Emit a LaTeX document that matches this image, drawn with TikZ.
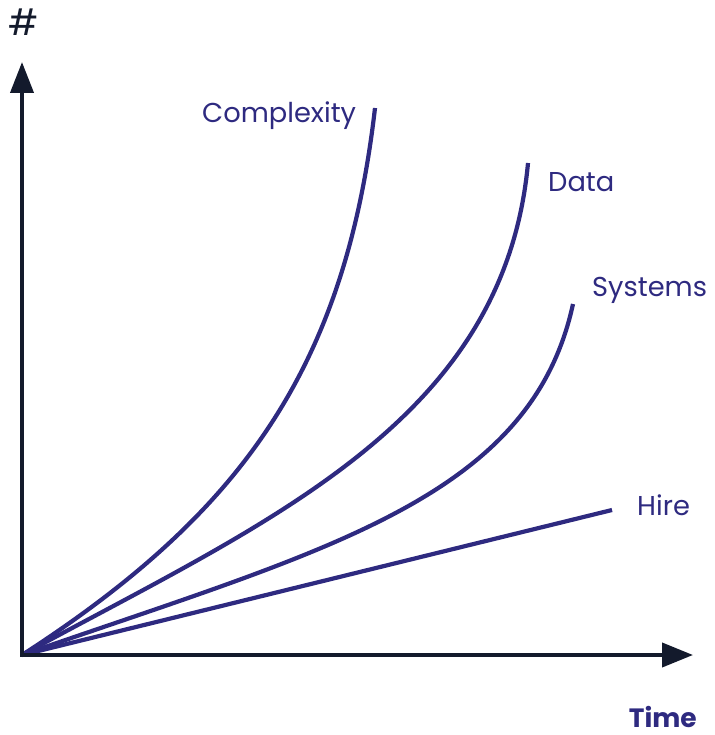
\documentclass[tikz,border=0pt]{standalone}
\usepackage{fontspec}
\setmainfont{Poppins}
\usetikzlibrary{arrows.meta}
\definecolor{indigo}{HTML}{2E2A80}
\definecolor{axisnavy}{HTML}{131A2C}
\tikzset{
  axisline/.style={draw=axisnavy, line width=4pt},
  curve/.style={draw=indigo, line width=4.2pt, line cap=butt, line join=round},
  lbl/.style={text=indigo, inner sep=0pt, anchor=base west, font=\fontsize{27.3}{30}\selectfont},
}
\begin{document}
\begin{tikzpicture}[x=1pt,y=-1pt]
\useasboundingbox (0,0) rectangle (714,735);
\coordinate (O) at (22,655);
\coordinate (ytip) at (22,62);
\coordinate (xtip) at (693,655);
\coordinate (cend) at (375,108);
\coordinate (dend) at (528,163);
\coordinate (send) at (573,304);
\coordinate (hend) at (612,510);
% curves
\draw[curve] (O) .. controls (242,513) and (345,368) .. (cend);
\draw[curve] (O) .. controls (268,521) and (504,422) .. (dend);
\draw[curve] (O) .. controls (324,550) and (530.6,499.4) .. (send);
\draw[curve] (O) -- (hend);
% axes
\draw[axisline, -{Triangle[length=31pt,width=23pt]}] ([yshift=2pt]O) -- (ytip);
\draw[axisline, -{Triangle[length=31pt,width=24pt]}] ([xshift=-2pt]O) -- (xtip);
% labels
\node[lbl] (lcomplexity) at (202,123) {Complexity};
\node[lbl] (ldata) at (548,192) {Data};
\node[lbl] (lsystems) at (592,296) {Systems};
\node[lbl] (lhire) at (637,515) {Hire};
\node[text=indigo, inner sep=0pt, text depth=0pt, anchor=base east, font=\fontsize{26.5}{30}\selectfont\bfseries] (ltime) at (697,727) {Time};
\node[text=axisnavy, inner sep=0pt, anchor=center, font=\fontsize{36}{40}\selectfont] (lhash) at (24,22) {\#};
\end{tikzpicture}
\end{document}
